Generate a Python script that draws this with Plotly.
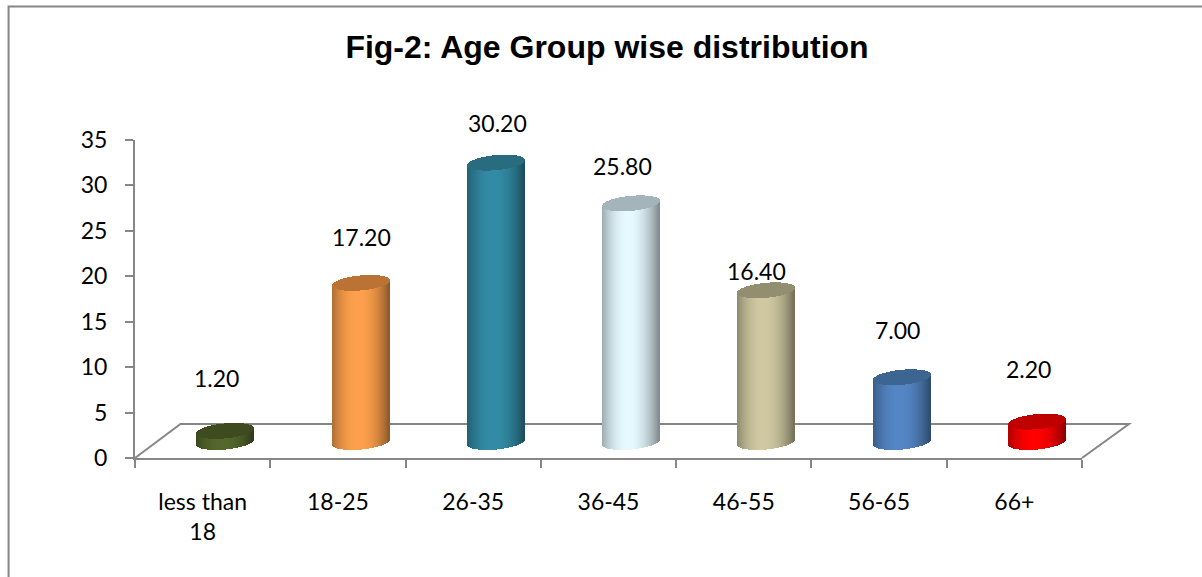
import numpy as np
import plotly.graph_objects as go

categories = ["less than<br>18", "18-25", "26-35", "36-45", "46-55", "56-65", "66+"]
values = [1.2, 17.2, 30.2, 25.8, 16.4, 7.0, 2.2]
value_labels = ["1.20", "17.20", "30.20", "25.80", "16.40", "7.00", "2.20"]
y_ticks = [0, 5, 10, 15, 20, 25, 30, 35]
title_text = "Fig-2: Age Group wise distribution"

side_colors = ["#55692C", "#FFA14C", "#338CA6", "#E6FAFF", "#D0C9A2", "#5587C6", "#FF0000"]
cap_colors = ["#3D4B1F", "#BB7335", "#296C80", "#A3B4BA", "#948E70", "#3C6591", "#C00000"]

# plot-area geometry, page pixels
W, H = 1202, 577
L, R, T, B = 134.5, 1082, 140, 458
UNIT_PX = 9.25       # cylinder height per value unit
BASE_PX = 442.0      # page y of the cylinder base centre
CENTER0_PX = 225.0   # page x of the first cylinder
STEP_PX = (R - L) / 7
HALF_W_PX = 28.5
RY_PX, TILT_PX = 7.5, 2.6
N = 57
FONT = 23
LABEL_DX = [-9, 1, 1, -9, -10, -4, -9]
LABEL_DY = [53, 46, 40, 37, 19, 47, 53]


def shade(hex_color, f):
    r, g, b = (int(hex_color[i:i + 2], 16) for i in (1, 3, 5))
    return f"rgb({int(r * f)},{int(g * f)},{int(b * f)})"


u = -1 + (2 * np.arange(N) + 1) / N
s = np.sqrt(1 - u ** 2)
hw = HALF_W_PX / STEP_PX
ry = RY_PX / UNIT_PX
tilt = TILT_PX / UNIT_PX
strip_w = 2 * hw / N * 1.3
light = 1 - 0.38 * np.abs(u + 0.08) ** 2.1

bx, bbase, bh, bcol = [], [], [], []
cx, cbase, ch, ccol = [], [], [], []
for i, v in enumerate(values):
    lower = tilt * u - ry * s
    bx += list(i + hw * u)
    bbase += list(lower)
    bh += [v] * N
    bcol += [shade(side_colors[i], f) for f in light]
    cx += list(i + hw * u)
    cbase += list(v + lower)
    ch += list(2 * ry * s)
    ccol += [cap_colors[i]] * N

fig = go.Figure()
fig.add_trace(go.Scatter(x=categories, y=values, mode="none", xaxis="x", yaxis="y",
                         hoverinfo="skip", showlegend=False))
fig.add_trace(go.Bar(x=bx, y=bh, base=bbase, width=strip_w, marker=dict(color=bcol, line_width=0),
                     xaxis="x2", yaxis="y2", hoverinfo="skip", showlegend=False))
fig.add_trace(go.Bar(x=cx, y=ch, base=cbase, width=strip_w, marker=dict(color=ccol, line_width=0),
                     xaxis="x2", yaxis="y2", hoverinfo="skip", showlegend=False))

annotations = [
    dict(x=i, y=v, xref="x2", yref="y2", text=t, showarrow=False,
         xshift=LABEL_DX[i], yshift=LABEL_DY[i],
         font=dict(family="Lato", size=FONT, color="#000000"))
    for i, (v, t) in enumerate(zip(values, value_labels))
]


def px(x):
    return (x - L) / (R - L)


def py(y):
    return (B - y) / (B - T)


GREY = "#868686"
shapes = [
    dict(type="path", xref="paper", yref="paper", layer="below",
         path=f"M {px(L)} {py(B)} L {px(180)} {py(424)} L {px(1129)} {py(424)} L {px(R)} {py(B)}",
         line=dict(color=GREY, width=2)),
    dict(type="path", xref="paper", yref="paper", layer="below",
         path=f"M {px(8)} {py(577)} L {px(8)} {py(6.5)} L {px(1202)} {py(6.5)}",
         line=dict(color=GREY, width=2)),
]

fig.update_layout(
    width=W, height=H, autosize=False,
    margin=dict(l=L, r=W - R, t=T, b=H - B, pad=0),
    paper_bgcolor="#FFFFFF", plot_bgcolor="rgba(0,0,0,0)",
    barmode="overlay", bargap=0, showlegend=False,
    title=dict(text=title_text, x=607 / W, xanchor="center", y=1 - 47 / H, yanchor="middle",
               font=dict(family="Liberation Sans", size=32, color="#000000", weight="bold")),
    font=dict(family="Lato", size=FONT, color="#000000"),
    xaxis=dict(type="category", categoryorder="array", categoryarray=categories, range=[-0.5, 6.5],
               tickson="boundaries", ticks="outside", ticklen=8, tickwidth=2, tickcolor=GREY,
               showline=True, linecolor=GREY, linewidth=2, showgrid=False, zeroline=False,
               ticklabelstandoff=22, tickangle=0, fixedrange=True),
    yaxis=dict(range=[0, 35], tickvals=y_ticks, ticks="outside", ticklen=8, tickwidth=2, tickcolor=GREY,
               showline=True, linecolor=GREY, linewidth=2, showgrid=False, zeroline=False,
               ticklabelstandoff=13, fixedrange=True),
    xaxis2=dict(overlaying="x", anchor="y", visible=False, fixedrange=True,
                range=[(L - CENTER0_PX) / STEP_PX, (R - CENTER0_PX) / STEP_PX]),
    yaxis2=dict(overlaying="y", anchor="x", visible=False, fixedrange=True,
                range=[(BASE_PX - B) / UNIT_PX, (BASE_PX - T) / UNIT_PX]),
    annotations=annotations, shapes=shapes,
)

fig.write_html("out.html", config={"displayModeBar": False},
               post_script="document.body.style.margin='0';document.body.style.overflow='hidden';")
